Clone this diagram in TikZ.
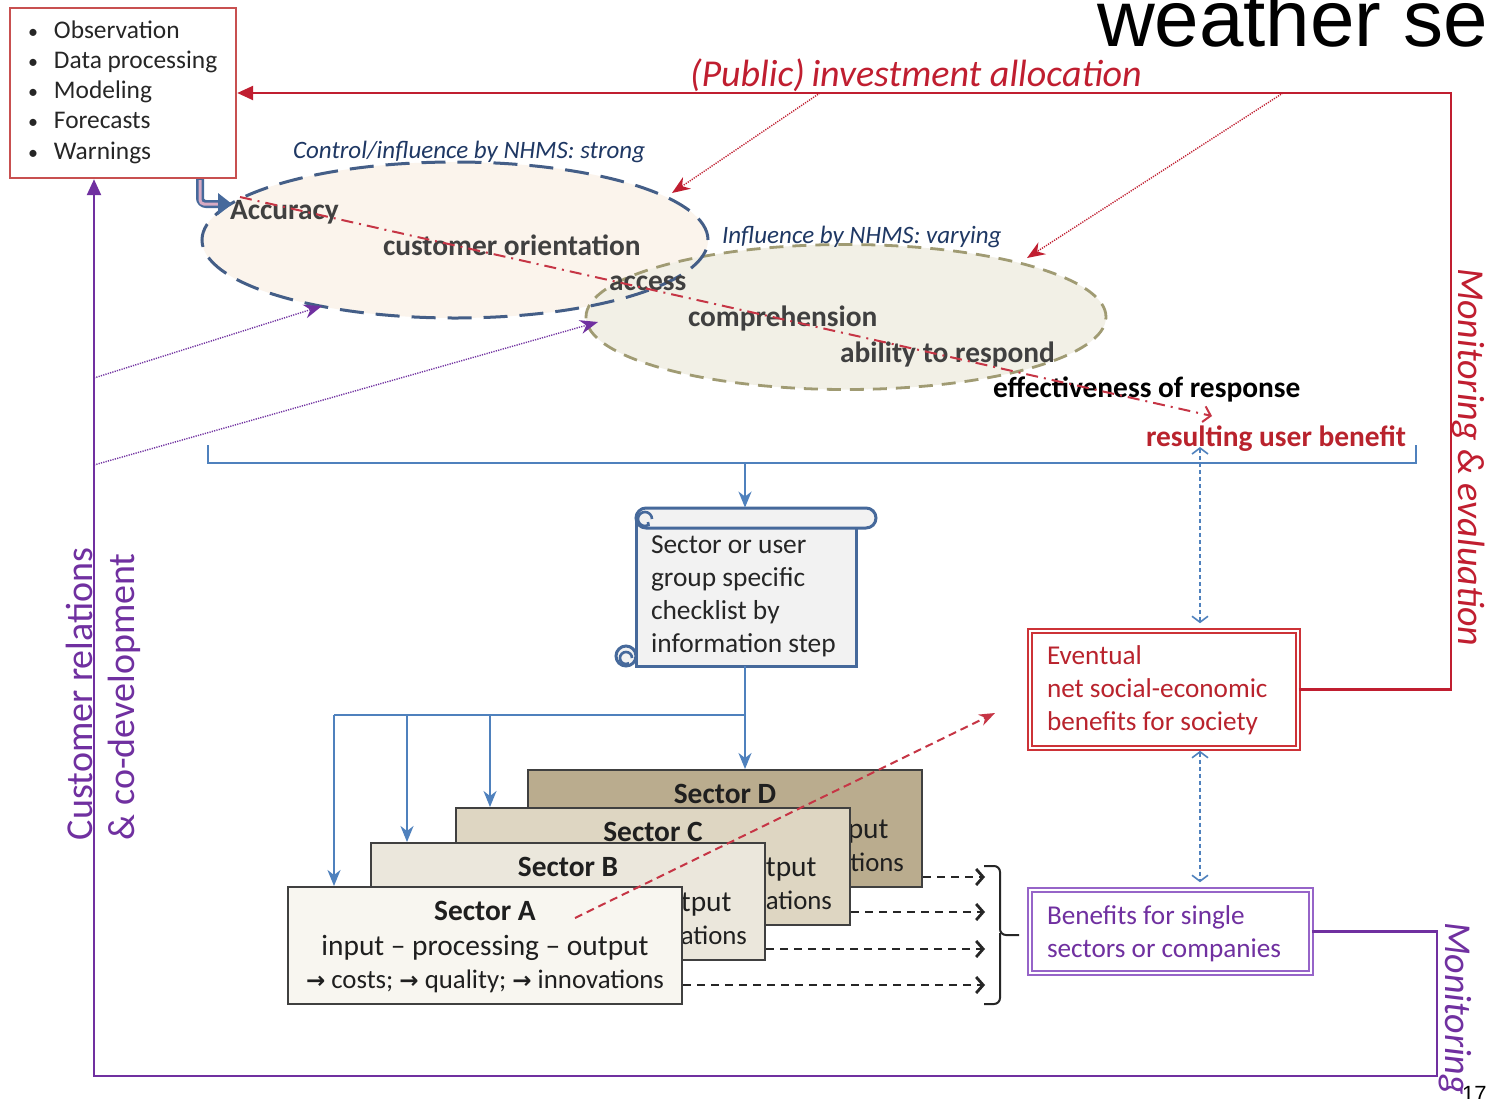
\documentclass[tikz,border=0pt]{standalone}
\usepackage{fontspec}
\setmainfont{Carlito}
\newfontfamily\arialf{Liberation Sans}
\newfontfamily\symf{DejaVu Sans}
\usetikzlibrary{arrows.meta,shapes.geometric,calc}
\newcommand{\myfs}[2]{\fontsize{#1}{#2}\selectfont}
\newcommand{\myarr}{{\symf\bfseries\myfs{11.5}{14}→}}
\definecolor{mred}{RGB}{192,30,48}
\definecolor{bxred}{RGB}{200,80,80}
\definecolor{evred}{RGB}{205,50,55}
\definecolor{evtxt}{RGB}{185,35,45}
\definecolor{mpur}{RGB}{112,48,160}
\definecolor{benpur}{RGB}{150,100,200}
\definecolor{dkblue}{RGB}{31,56,100}
\definecolor{lblue}{RGB}{79,129,189}
\definecolor{elblue}{RGB}{68,94,135}
\definecolor{olive}{RGB}{160,155,115}
\definecolor{txtgray}{RGB}{64,64,64}
\definecolor{secDc}{RGB}{186,172,142}
\definecolor{secCc}{RGB}{222,214,194}
\definecolor{secBc}{RGB}{235,231,220}
\definecolor{secAc}{RGB}{248,246,240}
\definecolor{scrollb}{RGB}{70,105,155}
\definecolor{scrfill}{RGB}{242,242,242}
\definecolor{fillA}{RGB}{251,244,236}
\definecolor{fillB}{RGB}{242,240,230}
\definecolor{bentpink}{RGB}{215,170,195}
\tikzset{
  txt/.style={anchor=base west, inner sep=0pt, outer sep=0pt},
  elltxt/.style={txt, font=\myfs{14.7}{17}\bfseries, text=txtgray},
  lbl/.style={txt, font=\myfs{12.5}{15}\itshape, text=dkblue},
  sectxt/.style={anchor=base, inner sep=0pt, font=\myfs{14.7}{17}, text=black!88},
  secbox/.style={draw=black!75, line width=1pt, minimum width=197pt, minimum height=58.5pt, inner sep=0pt, anchor=north west},
  dotline/.style={line width=0.7pt, dash pattern=on 0.6pt off 0.6pt},
  bline/.style={lblue, line width=1pt},
  barrow/.style={bline, -{Stealth[length=8pt,width=6.5pt,inset=2.5pt]}},
  blackdash/.style={black!85, line width=1pt, dash pattern=on 4pt off 3pt, -{Straight Barb[length=3.5pt,width=8pt,line width=1.4pt]}},
  bluedbl/.style={lblue, line width=0.8pt, dash pattern=on 2pt off 1.5pt, {Straight Barb[length=3pt,width=8pt]}-{Straight Barb[length=3pt,width=8pt]}},
  boxtxt/.style={txt, font=\myfs{13.6}{16}},
}
\begin{document}
\begin{tikzpicture}[x=0.5pt,y=-0.5pt]
\clip (0,0) rectangle (1487,1098);
\fill[white] (0,0) rectangle (1487,1098);

% title
\node[txt, font=\arialf\fontsize{40}{48}\selectfont] (title) at (1097,46) {weather se};
\node[txt, font=\arialf\fontsize{11}{13}\selectfont] (pnum) at (1462,1101) {17};

% top-left box
\node[draw=bxred, line width=1.2pt, fill=white, minimum width=113pt, minimum height=85pt, inner sep=0pt] (obs) at (123,93) {};
\foreach \t [count=\i from 0] in {Observation,Data processing,Modeling,Forecasts,Warnings}
  \node[txt, font=\myfs{12.7}{15}, text=black!85] (ob\i) at (28,38+30.25*\i) {\makebox[13pt][l]{\myfs{10}{12}•}\t};

% ellipses
\node[ellipse, fill=fillA, minimum width=253pt, minimum height=78pt, inner sep=0pt] (el1) at (455,240) {};
\node[ellipse, fill=fillB, draw=olive, line width=1.4pt, dash pattern=on 7pt off 4.5pt, minimum width=260pt, minimum height=72.5pt, inner sep=0pt] (el2) at (846,317) {};
\draw[elblue, line width=1.5pt, dash pattern=on 12pt off 6pt] (el1.center) ellipse [x radius=126.5pt, y radius=39pt];

\node[lbl] (lstrong) at (293,158) {Control/influence by NHMS: strong};
\node[lbl] (lvary) at (722,243) {Influence by NHMS: varying};

\node[elltxt] (acc) at (230,219) {Accuracy};
\node[elltxt] (cor) at (383,255) {customer orientation};
\node[elltxt] (acs) at (609,290) {access};
\node[elltxt] (com) at (688,326) {comprehension};
\node[elltxt] (abl) at (840,362) {ability to respond};
\node[elltxt, text=black] (eff) at (993,397) {effectiveness of response};
\node[elltxt, text=evtxt] (rub) at (1146,446) {resulting user benefit};

% red dash-dot chain
\coordinate (rd1) at (240,197);
\coordinate (rd2) at (1212,416);
\draw[mred!90, line width=1pt, dash pattern=on 6pt off 3pt on 1pt off 3pt, -{Straight Barb[length=3.5pt,width=8pt]}] (rd1) -- (rd2);

% bent arrow from box
\coordinate (bend) at (232,204);
\draw[scrollb, line width=4pt, rounded corners=3pt] (obs.south -| 200,0) -- (200,204) -- (220,204);
\draw[bentpink, line width=1.5pt, rounded corners=2pt] (200,180) -- (200,204) -- (219,204);
\fill[scrollb] (218,193) -- (bend) -- (218,215) -- cycle;

% sectors
\foreach \l/\x/\y/\c in {D/527/769/secDc, C/455/807/secCc, B/370/842/secBc, A/287/886/secAc} {
  \node[secbox, fill=\c] (sec\l) at (\x,\y) {};
  \node[sectxt, font=\myfs{14.7}{17}\bfseries] (sec\l-t) at ($(sec\l.north)+(0,34)$) {Sector \l};
  \node[sectxt] (sec\l-a) at ($(sec\l.north)+(0,69)$) {input – processing – output};
  \node[sectxt, font=\myfs{13.4}{16}] (sec\l-b) at ($(sec\l.north)+(0,102)$) {\myarr\ costs; \myarr\ quality; \myarr\ innovations};
}

% scroll
\node[minimum width=120pt, minimum height=79pt, inner sep=0pt] (scroll) at (756,587) {};
\filldraw[fill=scrfill, draw=scrollb, line width=1.5pt] (636,520) rectangle (856,666);
\filldraw[fill=scrfill, draw=scrollb, line width=1.5pt, rounded corners=5pt] (636,508) rectangle (876,528);
\draw[scrollb, line width=1.3pt] (652,519) arc[start angle=0, end angle=300, radius=3.5pt] -- (648,522);
\filldraw[fill=scrfill, draw=scrollb, line width=1.5pt] (626,656) circle[radius=5pt];
\draw[scrollb, line width=1.3pt] (632,658) arc[start angle=0, end angle=300, radius=3pt];
\foreach \t [count=\i from 0] in {Sector or user,group specific,checklist by,information step}
  \node[txt, font=\myfs{13.7}{16.5}, text=black!85] (scr\i) at (651,553+33*\i) {\t};

% blue bracket and arrows
\coordinate (bk1) at (208,445);
\coordinate (bk2) at (1416,445);
\coordinate (bkm) at (745,463);
\draw[bline] (bk1) -- (208,463) -- (1416,463) -- (bk2);
\draw[barrow] (bkm) -- (745,0 |- scroll.north);
\coordinate (spl) at (745,715);
\draw[bline] (745,0 |- scroll.south) -- (spl) -- (334,715);
\draw[barrow] (334,715) -- (334,0 |- secA.north);
\draw[barrow] (407,715) -- (407,0 |- secB.north);
\draw[barrow] (490,715) -- (490,0 |- secC.north);
\draw[barrow] (spl) -- (745,0 |- secD.north);

% boxes on right
\node[draw=evred, double=white, double distance=1.4pt, line width=0.8pt, fill=white, minimum width=134pt, minimum height=58.5pt, inner sep=0pt] (evt) at (1164,689.5) {};
\node[boxtxt, text=evtxt] (ev1) at (1047,664) {Eventual};
\node[boxtxt, text=evtxt] (ev2) at (1047,697) {net social-economic};
\node[boxtxt, text=evtxt] (ev3) at (1047,730) {benefits for society};

\node[draw=benpur, double=white, double distance=1.4pt, line width=0.8pt, fill=white, minimum width=140.5pt, minimum height=41.5pt, inner sep=0pt] (ben) at (1170.5,931.5) {};
\node[boxtxt, text=mpur] (bn1) at (1047,924) {Benefits for single};
\node[boxtxt, text=mpur] (bn2) at (1047,957) {sectors or companies};

% dashed arrows from sectors
\coordinate (tD) at (985,877);
\coordinate (tC) at (985,912);
\coordinate (tB) at (985,949);
\coordinate (tA) at (985,985);
\draw[blackdash] (secD.east |- tD) -- (tD);
\draw[blackdash] (secC.east |- tC) -- (tC);
\draw[blackdash] (secB.east |- tB) -- (tB);
\draw[blackdash] (secA.east |- tA) -- (tA);

% right bracket
\coordinate (rb1) at (984,866);
\coordinate (rb2) at (984,1004);
\coordinate (rbm) at (1019,935);
\draw[black!85, line width=1pt, rounded corners=3pt] (rb1) -- (1000,866) -- (1000,935) -- (rbm);
\draw[black!85, line width=1pt, rounded corners=3pt] (rb2) -- (1000,1004) -- (1000,933);

% blue dotted double arrows
\coordinate (rubt) at (1200,447);
\draw[bluedbl, shorten >=3.5pt] (rubt) -- (evt.north -| rubt);
\draw[bluedbl, shorten <=1pt, shorten >=3.5pt] (evt.south -| rubt) -- (ben.north -| rubt);

% red dashed from sector A to society
\coordinate (ra1) at (575,918);
\coordinate (ra2) at (995,713);
\draw[mred!90, line width=1pt, dash pattern=on 4pt off 2.5pt, -{Stealth[length=8pt,width=6pt]}] (ra1) -- (ra2);

% investment allocation loop
\draw[mred, line width=1.2pt, -{Triangle[length=8pt,width=7pt]}] (evt.east) -| (1451,93) -- (obs.east);
\node[txt, font=\myfs{19}{22}\itshape, text=mred] (inv) at (690,86) {(Public)\hspace{-1pt} investment allocation};
\coordinate (ia1) at (820,93);
\coordinate (ia1t) at (672,193);
\coordinate (ia2) at (1283,93);
\coordinate (ia2t) at (1027,258);
\draw[mred, dotline, -{Stealth[length=9pt,width=7pt]}] (ia1) -- (ia1t);
\draw[mred, dotline, -{Stealth[length=9pt,width=7pt]}] (ia2) -- (ia2t);
\node[txt, rotate=-90, font=\myfs{19}{22}\itshape, text=mred] (mev) at (1458,268) {Monitoring \& evaluation};

% purple customer relations loop
\draw[mpur, line width=1.2pt, -{Triangle[length=8pt,width=7pt]}] (ben.east) -- (1437,931.5) -- (1437,1076) -- (94,1076) -- (94,0 |- obs.south);
\coordinate (pd1) at (94,378);
\coordinate (pd1t) at (322,306);
\coordinate (pd2) at (94,465);
\coordinate (pd2t) at (598,322);
\draw[mpur, dotline, -{Stealth[length=9pt,width=7pt]}] (pd1) -- (pd1t);
\draw[mpur, dotline, -{Stealth[length=9pt,width=7pt]}] (pd2) -- (pd2t);
\node[txt, rotate=90, font=\myfs{19}{22}, text=mpur] (cr1) at (92,840) {Customer relations};
\node[txt, rotate=90, font=\myfs{19}{22}, text=mpur] (cr2) at (134,840) {\& co-development};
\node[txt, rotate=-90, font=\myfs{19}{22}\itshape, text=mpur] (mon) at (1445,922) {Monitoring};
\end{tikzpicture}
\end{document}
